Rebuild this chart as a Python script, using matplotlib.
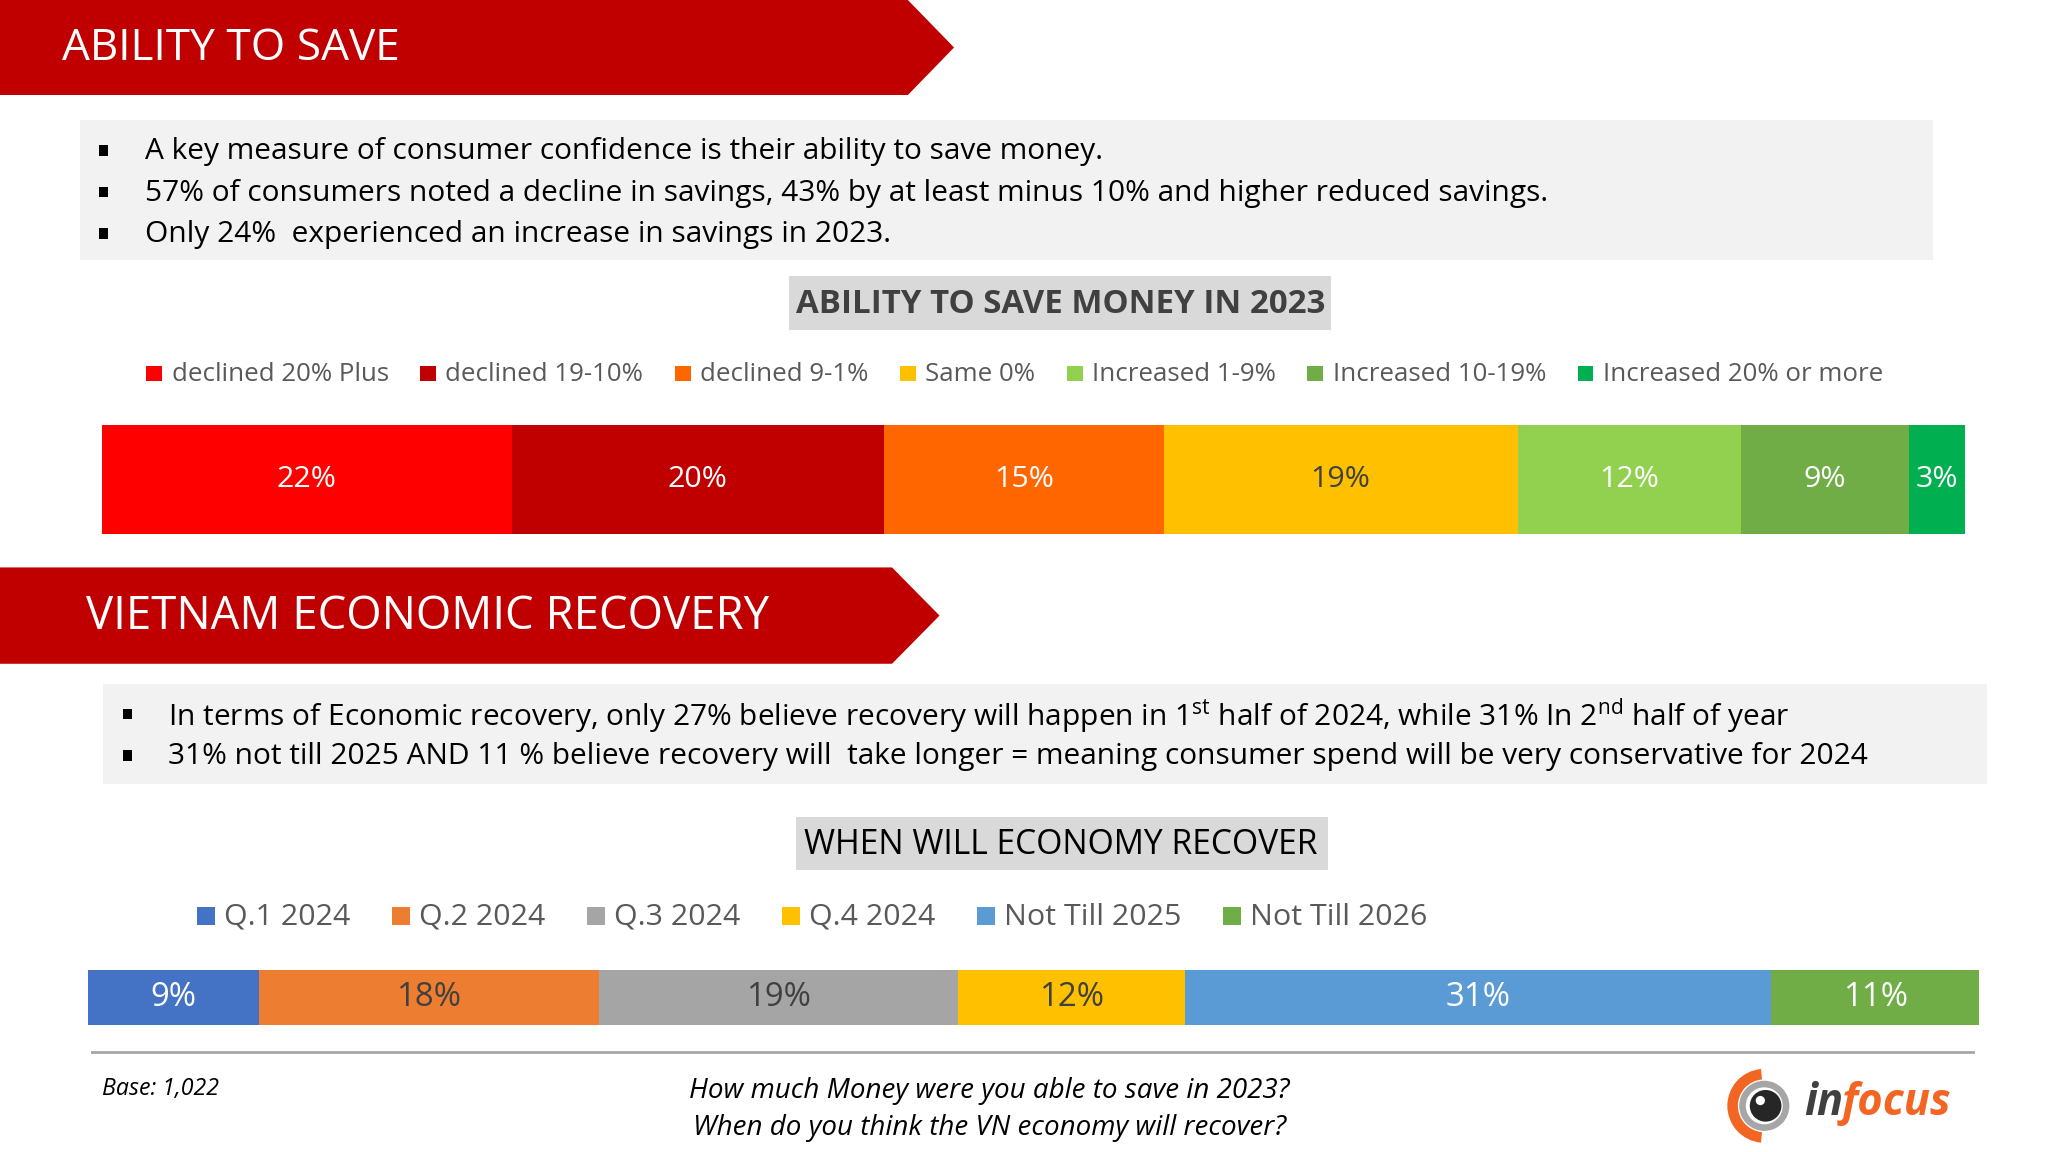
import matplotlib
matplotlib.use("Agg")
import matplotlib.pyplot as plt
from matplotlib.patches import Polygon, Rectangle, Circle, Wedge
import numpy as np

plt.rcParams['font.family'] = ['Open Sans', 'DejaVu Sans']
plt.rcParams['mathtext.fontset'] = 'custom'
plt.rcParams['mathtext.rm'] = 'Open Sans'
plt.rcParams['mathtext.it'] = 'Open Sans:italic'

# ---------------- data ----------------
save_categories = ["declined 20% Plus", "declined 19-10%", "declined 9-1%", "Same 0%",
                   "Increased 1-9%", "Increased 10-19%", "Increased 20% or more"]
save_values = [22, 20, 15, 19, 12, 9, 3]
save_colors = ["#FF0000", "#C00000", "#FF6600", "#FFC000", "#92D050", "#70AD47", "#00B050"]
save_label_colors = ["white", "white", "white", "#404040", "white", "white", "white"]

recover_categories = ["Q.1 2024", "Q.2 2024", "Q.3 2024", "Q.4 2024", "Not Till 2025", "Not Till 2026"]
recover_values = [9, 18, 19, 12, 31, 11]
recover_colors = ["#4472C4", "#ED7D31", "#A5A5A5", "#FFC000", "#5B9BD5", "#70AD47"]
recover_label_colors = ["white", "#404040", "#404040", "#404040", "white", "white"]

bullets_save = ["A key measure of consumer confidence is their ability to save money.",
                "57% of consumers noted a decline in savings, 43% by at least minus 10% and higher reduced savings.",
                "Only 24%  experienced an increase in savings in 2023."]
bullets_recover = [r"In terms of Economic recovery, only 27% believe recovery will happen in 1$^{\mathrm{st}}$ half of 2024, while 31% In 2$^{\mathrm{nd}}$ half of year",
                   "31% not till 2025 AND 11 % believe recovery will  take longer = meaning consumer spend will be very conservative for 2024"]

# ---------------- figure ----------------
W, H = 1552.0, 873.0
fig = plt.figure(figsize=(20.48, 11.52), dpi=100)
fig.patch.set_facecolor("white")
bg = fig.add_axes([0, 0, 1, 1])
bg.set_xlim(0, W)
bg.set_ylim(H, 0)
bg.axis("off")

S = 0.95  # display px -> pt


def banner(y0, y1, xr, xt, title, x_text, fs):
    ym = (y0 + y1) / 2
    bg.add_patch(Polygon([[0, y0], [xr, y0], [xt, ym], [xr, y1], [0, y1]],
                         closed=True, facecolor="#C00000", edgecolor="none"))
    bg.text(x_text, ym + 1, title, color="white", fontsize=fs, va="center", ha="left")


banner(0, 72, 688, 723, "ABILITY TO SAVE", 47, 33.5 * S)
banner(430, 503, 676, 712, "VIETNAM ECONOMIC RECOVERY", 65, 34.5 * S)

# bullet boxes
bg.add_patch(Rectangle((61, 91), 1404, 106, facecolor="#F2F2F2", edgecolor="none"))
for i, t in enumerate(bullets_save):
    y = 114 + i * 31.5
    bg.add_patch(Rectangle((75, y - 4), 7, 8, facecolor="black", edgecolor="none"))
    bg.text(110, y + 1, t, fontsize=22.6 * S, va="center", ha="left", color="black")

bg.add_patch(Rectangle((78, 518), 1428, 76, facecolor="#F2F2F2", edgecolor="none"))
for i, t in enumerate(bullets_recover):
    y = 541 + i * 31.5
    bg.add_patch(Rectangle((93, y - 4), 7, 8, facecolor="black", edgecolor="none"))
    bg.text(127, y + 1, t, fontsize=22.6 * S, va="center", ha="left", color="black")

# chart titles
bg.add_patch(Rectangle((598, 209), 411, 41, facecolor="#D9D9D9", edgecolor="none"))
bg.text(804, 231, "ABILITY TO SAVE MONEY IN 2023", fontsize=25 * S, fontweight="bold",
        color="#404040", ha="center", va="center")
bg.add_patch(Rectangle((603, 619), 403, 40, facecolor="#D9D9D9", edgecolor="none"))
bg.text(804, 640, "WHEN WILL ECONOMY RECOVER", fontsize=25.5 * S,
        color="black", ha="center", va="center")

fig.canvas.draw()
renderer = fig.canvas.get_renderer()
inv = bg.transData.inverted()


def text_right(t):
    bb = t.get_window_extent(renderer=renderer)
    return inv.transform([[bb.x1, 0]])[0][0]


def legend_row(x0, y, cats, cols, fs, sq, gap_sq, gap_item):
    x = x0
    for c, col in zip(cats, cols):
        bg.add_patch(Rectangle((x, y - sq / 2), sq, sq, facecolor=col, edgecolor="none"))
        t = bg.text(x + sq + gap_sq, y + 1, c, fontsize=fs, color="#595959", ha="left", va="center")
        x = text_right(t) + gap_item


legend_row(111, 283, save_categories, save_colors, 19.6 * S, 12, 7, 24)
legend_row(149, 694, recover_categories, recover_colors, 23 * S, 14, 7, 31)


def stacked_bar(x0, y0, x1, y1, vals, cols, lcols, fs):
    ax = fig.add_axes([x0 / W, 1 - y1 / H, (x1 - x0) / W, (y1 - y0) / H])
    left = np.concatenate([[0], np.cumsum(vals)[:-1]])
    ax.barh([0] * len(vals), vals, left=left, color=cols, height=1.0, edgecolor="none")
    for l, v, lc in zip(left, vals, lcols):
        ax.text(l + v / 2, 0, f"{v}%", ha="center", va="center", color=lc, fontsize=fs)
    ax.set_xlim(0, sum(vals))
    ax.set_ylim(-0.5, 0.5)
    ax.axis("off")
    return ax


stacked_bar(77, 322, 1489, 405, save_values, save_colors, save_label_colors, 23 * S)
stacked_bar(67, 735, 1500, 777, recover_values, recover_colors, recover_label_colors, 25 * S)

# footer
bg.plot([70, 1495], [797, 797], color="#A6A6A6", lw=2)
bg.text(77, 825, "Base: 1,022", fontsize=17.5 * S, style="italic", color="black", ha="left", va="center")
bg.text(750, 827, "How much Money were you able to save in 2023?", fontsize=21 * S, style="italic",
        color="black", ha="center", va="center")
bg.text(750, 855, "When do you think the VN economy will recover?", fontsize=21 * S, style="italic",
        color="black", ha="center", va="center")

# logo
cx, cy = 1337, 838
bg.add_patch(Wedge((cx, cy), 28, 95, 265, width=8, facecolor="#F26522", edgecolor="none"))
bg.add_patch(Wedge((cx, cy), 19, 0, 360, width=5, facecolor="#A6A6A6", edgecolor="none"))
bg.add_patch(Circle((cx + 1, cy), 12, facecolor="#262626", edgecolor="none"))
bg.add_patch(Circle((cx - 3, cy - 4), 3.5, facecolor="white", edgecolor="none"))
t_in = bg.text(1367, 836, "in", fontsize=33 * S, fontweight="bold", style="italic", color="#404040",
               ha="left", va="center")
bg.text(text_right(t_in) - 1, 836, "focus", fontsize=33 * S, fontweight="bold", style="italic",
        color="#F26522", ha="left", va="center")

fig.savefig("out.png", dpi=100, facecolor="white")
